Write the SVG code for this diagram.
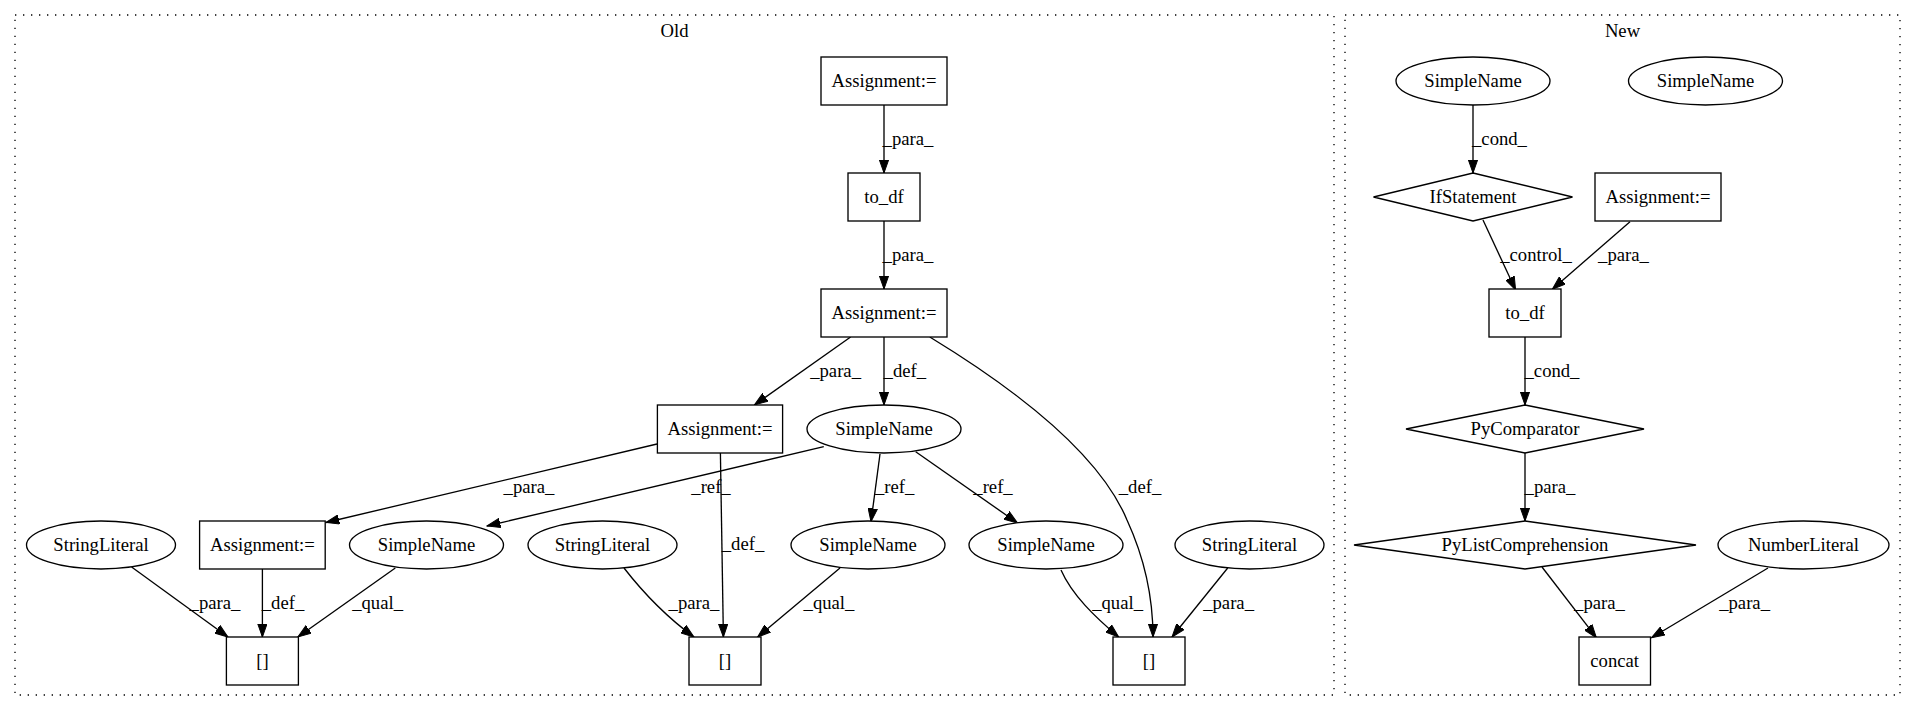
<svg xmlns="http://www.w3.org/2000/svg" width="1916" height="712" viewBox="0 0 1916 712">
<style>
text{font-size:18.67px;fill:#000;text-anchor:middle}
.n{fill:#fff;stroke:#000;stroke-width:1.33}
.c{fill:none;stroke:#000;stroke-width:1.33;stroke-dasharray:1.33,6.67}
.e path{fill:none;stroke:#000;stroke-width:1.33;marker-end:url(#arr)}
</style>
<defs>
<marker id="arr" markerUnits="userSpaceOnUse" markerWidth="14" markerHeight="10" viewBox="0 0 14 10" refX="13.3" refY="5" orient="auto">
<path d="M0,0.3 L13.3,5 L0,9.7 z" fill="#000" stroke="#000" stroke-width="1"/>
</marker>
</defs>
<rect width="1916" height="712" fill="#fff"/>
<g font-family="Liberation Serif, Times New Roman, serif">
<g id="cluster-old">
<rect class="c" x="15" y="15" width="1319" height="680"/>
<text x="674.5" y="37">Old</text>
</g>
<g id="cluster-new">
<rect class="c" x="1345" y="15" width="555" height="680"/>
<text x="1622.5" y="37">New</text>
</g>
<g id="edges" class="e">
<path d="M884,105 L884,173"/>
<path d="M884,221 L884,289"/>
<path d="M850.6,337 L754.4,405"/>
<path d="M884,337 L884,405"/>
<path d="M929.8,337 C1020,392 1100,455 1127,520 C1150,570 1153,610 1153,637"/>
<path d="M657,444 L326,522.5"/>
<path d="M823.8,446.7 L487,526"/>
<path d="M880,454 L871,521.7"/>
<path d="M915.7,451.7 L1017.5,523"/>
<path d="M720.4,453 L723.4,637"/>
<path d="M131.6,567 L228,637"/>
<path d="M262.4,569 L262.4,637"/>
<path d="M395.3,568 L297.9,637"/>
<path d="M624,568 C645,595 668,618 694,637"/>
<path d="M840,568 L757.6,637"/>
<path d="M1061,570 C1072,595 1095,617 1118.7,637"/>
<path d="M1227.7,568 L1172,637"/>
<path d="M1473,105 L1473,173"/>
<path d="M1483,220 L1515.6,290"/>
<path d="M1630,221.7 L1552.3,289.3"/>
<path d="M1525,337 L1525,405"/>
<path d="M1525,453 L1525,521"/>
<path d="M1542,567 L1596.4,637.7"/>
<path d="M1768,568 L1651.5,637.7"/>
<text x="908" y="144.6">_para_</text>
<text x="908" y="260.6">_para_</text>
<text x="835.6" y="376.6">_para_</text>
<text x="904.8" y="376.6">_def_</text>
<text x="1140" y="492.6">_def_</text>
<text x="529" y="492.6">_para_</text>
<text x="711" y="492.6">_ref_</text>
<text x="894.6" y="492.6">_ref_</text>
<text x="993" y="492.6">_ref_</text>
<text x="743" y="550">_def_</text>
<text x="215" y="608.6">_para_</text>
<text x="283" y="608.6">_def_</text>
<text x="377.6" y="608.6">_qual_</text>
<text x="694" y="608.6">_para_</text>
<text x="829" y="608.6">_qual_</text>
<text x="1117.6" y="608.6">_qual_</text>
<text x="1228.6" y="608.6">_para_</text>
<text x="1499.5" y="144.6">_cond_</text>
<text x="1536" y="260.6">_control_</text>
<text x="1623.5" y="260.6">_para_</text>
<text x="1552" y="376.6">_cond_</text>
<text x="1550" y="492.6">_para_</text>
<text x="1599.5" y="608.6">_para_</text>
<text x="1744.6" y="608.6">_para_</text>
</g>
<g id="old-assign1"><rect class="n" x="821" y="57" width="126" height="48"/><text x="884" y="87">Assignment:=</text></g>
<g id="old-todf"><rect class="n" x="848" y="173" width="72" height="48"/><text x="884" y="203">to_df</text></g>
<g id="old-assign2"><rect class="n" x="821" y="289" width="126" height="48"/><text x="884" y="319">Assignment:=</text></g>
<g id="old-assign3"><rect class="n" x="657.4" y="405" width="125.2" height="48"/><text x="720" y="435">Assignment:=</text></g>
<g id="old-sn1"><ellipse class="n" cx="884" cy="429" rx="77" ry="24"/><text x="884" y="435">SimpleName</text></g>
<g id="old-sl1"><ellipse class="n" cx="101" cy="545" rx="74.5" ry="24"/><text x="101" y="551">StringLiteral</text></g>
<g id="old-assign4"><rect class="n" x="199.6" y="521" width="125.6" height="48"/><text x="262.4" y="551">Assignment:=</text></g>
<g id="old-sn2"><ellipse class="n" cx="426.5" cy="545" rx="77" ry="24"/><text x="426.5" y="551">SimpleName</text></g>
<g id="old-sl2"><ellipse class="n" cx="602.5" cy="545" rx="74.5" ry="24"/><text x="602.5" y="551">StringLiteral</text></g>
<g id="old-sn3"><ellipse class="n" cx="868" cy="545" rx="77" ry="24"/><text x="868" y="551">SimpleName</text></g>
<g id="old-sn4"><ellipse class="n" cx="1046" cy="545" rx="77" ry="24"/><text x="1046" y="551">SimpleName</text></g>
<g id="old-sl3"><ellipse class="n" cx="1249.5" cy="545" rx="74.5" ry="24"/><text x="1249.5" y="551">StringLiteral</text></g>
<g id="old-idx1"><rect class="n" x="226.4" y="637" width="72" height="48"/><text x="262.4" y="667">[]</text></g>
<g id="old-idx2"><rect class="n" x="689" y="637" width="72" height="48"/><text x="725" y="667">[]</text></g>
<g id="old-idx3"><rect class="n" x="1113" y="637" width="72" height="48"/><text x="1149" y="667">[]</text></g>
<g id="new-sn1"><ellipse class="n" cx="1473" cy="81" rx="77" ry="24"/><text x="1473" y="87">SimpleName</text></g>
<g id="new-sn2"><ellipse class="n" cx="1705.5" cy="81" rx="77" ry="24"/><text x="1705.5" y="87">SimpleName</text></g>
<g id="new-if"><polygon class="n" points="1473,173 1572.5,197 1473,221 1373.5,197"/><text x="1473" y="203">IfStatement</text></g>
<g id="new-assign"><rect class="n" x="1595" y="173" width="126" height="48"/><text x="1658" y="203">Assignment:=</text></g>
<g id="new-todf"><rect class="n" x="1489" y="289" width="72" height="48"/><text x="1525" y="319">to_df</text></g>
<g id="new-pycomp"><polygon class="n" points="1525,405 1644,429 1525,453 1406,429"/><text x="1525" y="435">PyComparator</text></g>
<g id="new-pylc"><polygon class="n" points="1525,521 1696,545 1525,569 1354,545"/><text x="1525" y="551">PyListComprehension</text></g>
<g id="new-nl"><ellipse class="n" cx="1803.5" cy="545" rx="85.5" ry="24"/><text x="1803.5" y="551">NumberLiteral</text></g>
<g id="new-concat"><rect class="n" x="1579" y="637" width="71.5" height="48"/><text x="1614.7" y="667">concat</text></g>
</g>
</svg>
